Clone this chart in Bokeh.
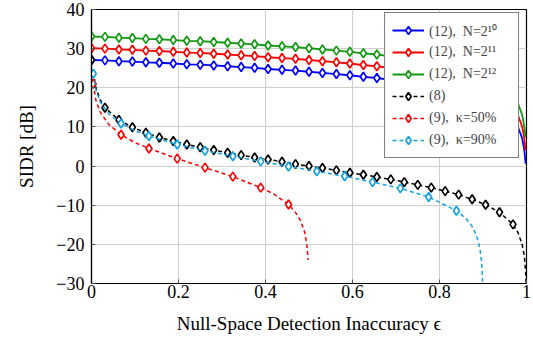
from bokeh.plotting import figure
from bokeh.models import Range1d, FixedTicker, CustomJSTickFormatter, Legend, LegendItem
from bokeh.embed import file_html
from bokeh.resources import INLINE

# ---------------- data ----------------
# epsilon grid of the marked points for the (12) curves and (8)
eps_grid = [0.0, 0.031, 0.063, 0.094, 0.125, 0.156, 0.188, 0.219, 0.25, 0.281,
            0.313, 0.344, 0.375, 0.406, 0.438, 0.469, 0.5, 0.531, 0.563, 0.594,
            0.625, 0.656, 0.688, 0.719, 0.75, 0.781, 0.813, 0.844, 0.875, 0.906,
            0.938, 0.969]
eps_tail = [0.98, 0.99, 0.995, 0.998]

sidr12_n10 = [27.1, 27.0, 26.8, 26.7, 26.5, 26.4, 26.2, 26.0, 25.9, 25.7,
              25.5, 25.3, 25.1, 24.8, 24.6, 24.4, 24.1, 23.8, 23.5, 23.2,
              22.8, 22.5, 22.0, 21.6, 21.1, 20.5, 19.8, 19.0, 18.1, 16.8,
              15.1, 12.1]
sidr12_n10_tail = [10.1, 7.1, 4.1, 0.6]

sidr12_n11 = [30.1, 30.0, 29.8, 29.7, 29.5, 29.4, 29.2, 29.0, 28.9, 28.7,
              28.5, 28.3, 28.1, 27.8, 27.6, 27.4, 27.1, 26.8, 26.5, 26.2,
              25.8, 25.5, 25.0, 24.6, 24.1, 23.5, 22.8, 22.0, 21.1, 19.8,
              18.1, 15.1]
sidr12_n11_tail = [13.1, 10.1, 7.1, 4.0]

sidr12_n12 = [33.1, 33.0, 32.8, 32.7, 32.5, 32.4, 32.2, 32.0, 31.9, 31.7,
              31.5, 31.3, 31.1, 30.8, 30.6, 30.4, 30.1, 29.8, 29.5, 29.2,
              28.8, 28.5, 28.0, 27.6, 27.1, 26.5, 25.8, 25.0, 24.1, 22.8,
              21.1, 18.1]
sidr12_n12_tail = [16.1, 13.1, 10.1, 7.4]

# (8): marked points and the dashed curve
eps8_marks = [0.0, 0.031, 0.063, 0.094, 0.125, 0.156, 0.188, 0.219, 0.25, 0.281,
              0.313, 0.344, 0.375, 0.406, 0.438, 0.469, 0.5, 0.531, 0.563, 0.594,
              0.625, 0.656, 0.688, 0.719, 0.75, 0.781, 0.813, 0.844, 0.875, 0.906,
              0.938, 0.969]
sidr8_marks = [27.1, 14.9, 11.8, 9.9, 8.5, 7.3, 6.4, 5.5, 4.8, 4.1,
               3.4, 2.8, 2.2, 1.7, 1.1, 0.5, 0.0, -0.5, -1.1, -1.7,
               -2.2, -2.8, -3.4, -4.1, -4.8, -5.5, -6.4, -7.3, -8.5, -9.9,
               -11.8, -14.9]
eps8_curve = [0.004, 0.01, 0.02, 0.031, 0.063, 0.094, 0.125, 0.156, 0.188, 0.219,
              0.25, 0.281, 0.313, 0.344, 0.375, 0.406, 0.438, 0.469, 0.5, 0.531,
              0.563, 0.594, 0.625, 0.656, 0.688, 0.719, 0.75, 0.781, 0.813, 0.844,
              0.875, 0.906, 0.938, 0.969, 0.98, 0.99, 0.995, 0.998, 0.999]
sidr8_curve = [24.0, 20.0, 16.9, 14.9, 11.8, 9.9, 8.5, 7.3, 6.4, 5.5,
               4.8, 4.1, 3.4, 2.8, 2.2, 1.7, 1.1, 0.5, 0.0, -0.5,
               -1.1, -1.7, -2.2, -2.8, -3.4, -4.1, -4.8, -5.5, -6.4, -7.3,
               -8.5, -9.9, -11.8, -14.9, -16.9, -20.0, -23.0, -27.0, -30.0]

# (9), kappa = 50 %
eps9a_marks = [0.004, 0.068, 0.132, 0.197, 0.261, 0.325, 0.389, 0.453]
sidr9a_marks = [21.0, 8.0, 4.5, 1.9, -0.4, -2.7, -5.5, -9.8]
eps9a_curve = [0.004, 0.01, 0.02, 0.04, 0.068, 0.1, 0.132, 0.197, 0.261, 0.325,
               0.389, 0.42, 0.453, 0.47, 0.48, 0.49, 0.495, 0.498]
sidr9a_curve = [21.0, 16.9, 13.8, 10.6, 8.0, 6.0, 4.5, 1.9, -0.4, -2.7,
                -5.5, -7.2, -9.8, -12.0, -13.8, -16.9, -20.0, -24.0]

# (9), kappa = 90 %
eps9b_marks = [0.004, 0.068, 0.132, 0.197, 0.261, 0.325, 0.389, 0.453, 0.518,
               0.582, 0.646, 0.71, 0.775, 0.839]
sidr9b_marks = [23.6, 10.9, 7.7, 5.5, 3.9, 2.5, 1.2, -0.1, -1.3,
                -2.6, -4.1, -5.7, -7.9, -11.4]
eps9b_curve = [0.004, 0.01, 0.02, 0.04, 0.068, 0.1, 0.132, 0.197, 0.261, 0.325,
               0.389, 0.453, 0.518, 0.582, 0.646, 0.71, 0.775, 0.839, 0.86,
               0.875, 0.885, 0.893, 0.897, 0.899, 0.8995]
sidr9b_curve = [23.6, 19.5, 16.4, 13.3, 10.9, 9.0, 7.7, 5.5, 3.9, 2.5,
                1.2, -0.1, -1.3, -2.6, -4.1, -5.7, -7.9, -11.4, -13.3,
                -15.4, -17.7, -21.1, -24.8, -29.5, -31.0]

x_ticks = [0, 0.2, 0.4, 0.6, 0.8, 1]
y_ticks = [-30, -20, -10, 0, 10, 20, 30, 40]

labels = ["(12),  N=2\u00b9\u2070", "(12),  N=2\u00b9\u00b9", "(12),  N=2\u00b9\u00b2",
          "(8)", "(9),  \u03ba=50%", "(9),  \u03ba=90%"]

BLUE = "#0000ff"
RED = "#ff0000"
GREEN = "#119911"
BLACK = "#000000"
CYAN = "#12a4e0"
FONT = "Liberation Serif"

# ---------------- figure ----------------
p = figure(width=533, height=339, output_backend="svg", toolbar_location=None,
           x_range=Range1d(0, 1), y_range=Range1d(-30, 40),
           min_border_left=91, min_border_right=7, min_border_top=9,
           min_border_bottom=56)
p.background_fill_color = "white"
p.border_fill_color = "white"
p.outline_line_color = "black"
p.outline_line_width = 1.2
p.outline_line_alpha = 1

for ax in (p.xaxis[0], p.yaxis[0]):
    ax.axis_line_color = "black"
    ax.axis_line_width = 1.2
    ax.major_tick_in = 4
    ax.major_tick_out = 0
    ax.minor_tick_in = 0
    ax.minor_tick_out = 0
    ax.major_tick_line_color = "#555555"
    ax.major_label_text_font = FONT
    ax.major_label_text_font_size = "18px"
    ax.major_label_text_color = "black"
    ax.axis_label_text_font = FONT
    ax.axis_label_text_font_size = "19px"
    ax.axis_label_text_font_style = "normal"
    ax.axis_label_text_color = "black"
    ax.formatter = CustomJSTickFormatter(
        code="return (tick < 0 ? '\\u2212' : '') + Math.abs(tick).toString();")

p.xaxis[0].ticker = FixedTicker(ticks=x_ticks)
p.yaxis[0].ticker = FixedTicker(ticks=y_ticks)
p.xaxis[0].axis_label = "Null-Space Detection Inaccuracy \u03f5"
p.yaxis[0].axis_label = "SIDR [dB]"
p.xaxis[0].major_label_standoff = 1
p.yaxis[0].major_label_standoff = 7
p.xaxis[0].axis_label_standoff = 12
p.yaxis[0].axis_label_standoff = 16

p.grid.grid_line_color = "#cfcfcf"
p.grid.grid_line_width = 1

items = []


def series(xl, yl, xm, ym, color, dash, lw, label):
    r_line = p.line(xl, yl, line_color=color, line_width=lw, line_dash=dash)
    r_mark = p.scatter(xm, ym, marker="diamond", size=9, line_color=color,
                       fill_color="white", line_width=1.7)
    items.append(LegendItem(label=label, renderers=[r_line, r_mark]))


series(eps_grid + eps_tail, sidr12_n10 + sidr12_n10_tail, eps_grid, sidr12_n10,
       BLUE, "solid", 1.8, labels[0])
series(eps_grid + eps_tail, sidr12_n11 + sidr12_n11_tail, eps_grid, sidr12_n11,
       RED, "solid", 1.8, labels[1])
series(eps_grid + eps_tail, sidr12_n12 + sidr12_n12_tail, eps_grid, sidr12_n12,
       GREEN, "solid", 1.8, labels[2])
series(eps8_curve, sidr8_curve, eps8_marks, sidr8_marks,
       BLACK, "4 3", 1.5, labels[3])
series(eps9a_curve, sidr9a_curve, eps9a_marks, sidr9a_marks,
       RED, "4 3", 1.5, labels[4])
series(eps9b_curve, sidr9b_curve, eps9b_marks, sidr9b_marks,
       CYAN, "4 3", 1.5, labels[5])

legend = Legend(items=items, location=(293, 125), margin=0, padding=7,
                spacing=2, glyph_width=32, glyph_height=20, label_height=20,
                label_width=82, label_standoff=5, label_text_font=FONT,
                label_text_font_size="14px", border_line_color="black",
                border_line_width=1, background_fill_color="white",
                background_fill_alpha=1)
p.add_layout(legend)

open("out.html", "w").write(file_html(p, INLINE))
